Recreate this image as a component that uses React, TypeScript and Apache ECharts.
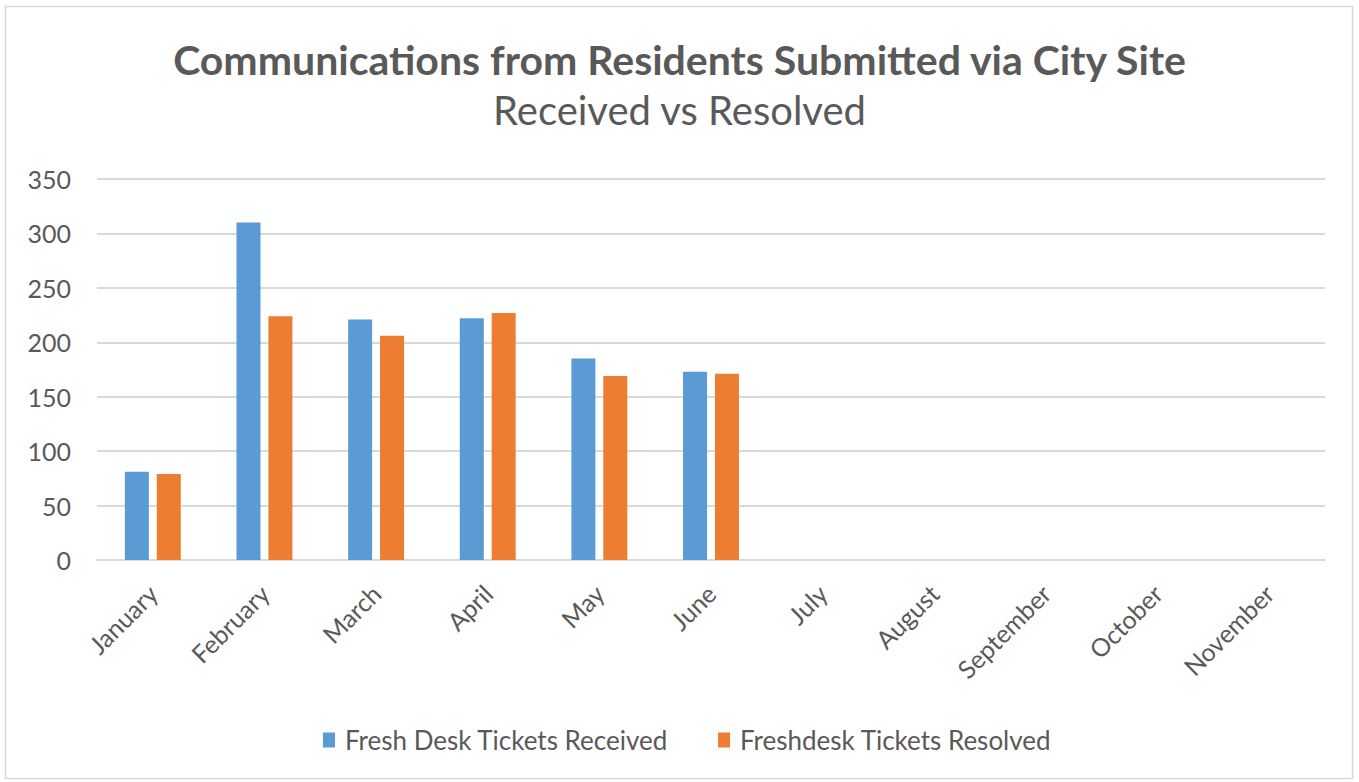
import React, { useEffect, useRef } from "react";
import * as echarts from "echarts";

const months = ["January", "February", "March", "April", "May", "June", "July", "August", "September", "October", "November"];
const received = [81, 310, 221, 222, 185, 173, null, null, null, null, null];
const resolved = [79, 224, 206, 227, 169, 171, null, null, null, null, null];
const yTicks = { min: 0, max: 350, interval: 50 };

const FONT = "Lato, 'Open Sans', sans-serif";

export default function App() {
  const ref = useRef<HTMLDivElement>(null);
  useEffect(() => {
    const chart = echarts.init(ref.current!, null, { renderer: "svg" });
    chart.setOption({
      animation: false,
      backgroundColor: "#ffffff",
      graphic: [
        {
          type: "rect",
          shape: { x: 5.5, y: 6.5, width: 1347, height: 772 },
          style: { fill: "none", stroke: "#d9d9d9", lineWidth: 1.5 },
          silent: true,
        },
      ],
      title: {
        text: "Communications from Residents Submitted via City Site",
        subtext: "Received vs Resolved",
        left: "center",
        top: 34,
        itemGap: 10,
        textStyle: { fontFamily: FONT, fontSize: 41, fontWeight: "bold", color: "#595959" },
        subtextStyle: { fontFamily: FONT, fontSize: 40, color: "#595959" },
      },
      legend: {
        bottom: 24,
        left: 318,
        itemWidth: 12,
        itemHeight: 15,
        itemGap: 50,
        icon: "rect",
        textStyle: { fontFamily: FONT, fontSize: 26, color: "#595959", padding: [0, 0, 0, 5] },
        data: ["Fresh Desk Tickets Received", "Freshdesk Tickets Resolved"],
      },
      grid: { left: 97, right: 34, top: 179, bottom: 222, containLabel: false },
      xAxis: {
        type: "category",
        data: months,
        axisLine: { show: true, lineStyle: { color: "#d9d9d9", width: 2 } },
        axisTick: { show: false },
        axisLabel: {
          rotate: 45,
          interval: 0,
          margin: 29,
          fontFamily: FONT,
          fontSize: 25,
          color: "#595959",
        },
      },
      yAxis: {
        type: "value",
        min: yTicks.min,
        max: yTicks.max,
        interval: yTicks.interval,
        axisLine: { show: false },
        axisTick: { show: false },
        splitLine: { lineStyle: { color: "#d9d9d9", width: 2 } },
        axisLabel: { fontFamily: FONT, fontSize: 25, color: "#595959", margin: 26 },
      },
      series: [
        {
          name: "Fresh Desk Tickets Received",
          type: "bar",
          data: received,
          barWidth: 24,
          barGap: "33%",
          itemStyle: { color: "#5B9BD5" },
        },
        {
          name: "Freshdesk Tickets Resolved",
          type: "bar",
          data: resolved,
          barWidth: 24,
          barGap: "33%",
          itemStyle: { color: "#ED7D31" },
        },
      ],
    });
    return () => chart.dispose();
  }, []);
  return (
    <div
      ref={ref}
      style={{ position: "absolute", left: 0, top: 0, width: 1359, height: 782 }}
    />
  );
}
